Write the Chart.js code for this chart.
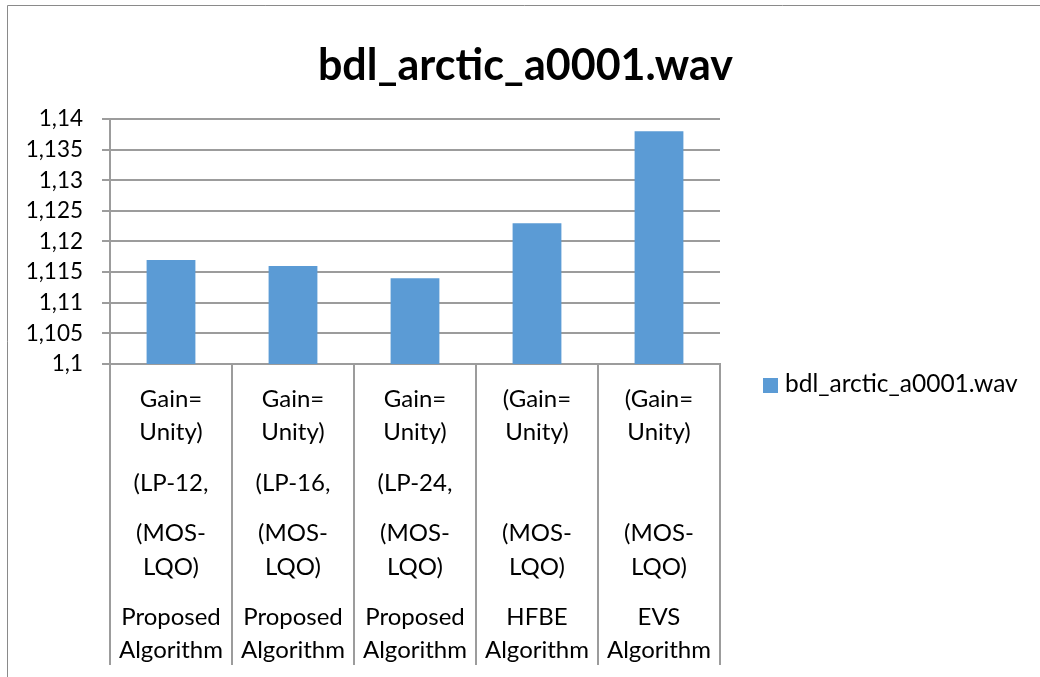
<!DOCTYPE html>
<html>
<head>
<meta charset="utf-8">
<script src="https://cdn.jsdelivr.net/npm/chart.js@4/dist/chart.umd.min.js"></script>
<style>
  html, body { margin: 0; padding: 0; background: #fff; }
  #wrap { width: 1040px; height: 677px; position: relative; }
</style>
</head>
<body>
<div id="wrap"><canvas id="c" width="1040" height="677"></canvas></div>
<script>
// Series and category data
const chartTitle = "bdl_arctic_a0001.wav";
const seriesName = "bdl_arctic_a0001.wav";
const subLabels = [
  ["Gain=", "Unity)", "(LP-12,", "(MOS-", "LQO)"],
  ["Gain=", "Unity)", "(LP-16,", "(MOS-", "LQO)"],
  ["Gain=", "Unity)", "(LP-24,", "(MOS-", "LQO)"],
  ["(Gain=", "Unity)", "", "(MOS-", "LQO)"],
  ["(Gain=", "Unity)", "", "(MOS-", "LQO)"]
];
const groupLabels = [
  ["Proposed", "Algorithm"],
  ["Proposed", "Algorithm"],
  ["Proposed", "Algorithm"],
  ["HFBE", "Algorithm"],
  ["EVS", "Algorithm"]
];
const values = [1.117, 1.116, 1.114, 1.123, 1.138];
const yMin = 1.1, yMax = 1.14, yStep = 0.005;

const FONT = "Lato, 'Open Sans', sans-serif";
const GRID = "#9c9c9c";
const FRAME = "#8a8a8a";
const BAR = "#5B9BD5";

const categories = subLabels.map((s, i) => groupLabels[i].join(" ") + " " + s.join(" "));

// Decimal comma formatting for the value axis
function fmt(v) {
  return String(parseFloat(v.toFixed(4))).replace(".", ",");
}

// Outer chart frame (top and left edges)
const framePlugin = {
  id: "frame",
  beforeDraw(chart) {
    const ctx = chart.ctx;
    ctx.save();
    ctx.fillStyle = "#fff";
    ctx.fillRect(0, 0, chart.width, chart.height);
    ctx.strokeStyle = FRAME;
    ctx.lineWidth = 1;
    ctx.beginPath();
    ctx.moveTo(7.5, chart.height + 2);
    ctx.lineTo(7.5, 5.5);
    ctx.lineTo(chart.width + 2, 5.5);
    ctx.stroke();
    ctx.restore();
  }
};

// Title, two-level category labels and legend
const decorPlugin = {
  id: "decor",
  afterDraw(chart) {
    const ctx = chart.ctx;
    const x = chart.scales.x;
    ctx.save();
    ctx.fillStyle = "#000";
    ctx.textAlign = "center";
    ctx.textBaseline = "alphabetic";
    ctx.font = "bold 43px " + FONT;
    ctx.fillText(chartTitle, 525.5, 80);

    ctx.font = "24px " + FONT;
    const subRows = [43, 76, 127, 177, 211];
    const groupRows = [261, 294];
    subLabels.forEach((lines, i) => {
      const cx = x.getPixelForValue(i);
      lines.forEach((t, j) => { if (t) ctx.fillText(t, cx, x.top + subRows[j]); });
      groupLabels[i].forEach((t, j) => ctx.fillText(t, cx, x.top + groupRows[j]));
    });

    const ds = chart.data.datasets[0];
    ctx.fillStyle = ds.backgroundColor;
    ctx.fillRect(763, 378, 15, 15);
    ctx.fillStyle = "#000";
    ctx.textAlign = "left";
    ctx.font = "24.5px " + FONT;
    ctx.fillText(ds.label, 785, 392);
    ctx.restore();
  }
};

new Chart(document.getElementById("c"), {
  type: "bar",
  data: {
    labels: categories,
    datasets: [{
      label: seriesName,
      data: values,
      backgroundColor: BAR,
      borderWidth: 0,
      categoryPercentage: 1,
      barPercentage: 0.4
    }]
  },
  options: {
    responsive: false,
    animation: false,
    devicePixelRatio: 1,
    layout: { padding: { left: 0, top: 119, right: 320, bottom: 0 } },
    plugins: {
      legend: { display: false },
      title: { display: false },
      tooltip: { enabled: false }
    },
    scales: {
      x: {
        ticks: { display: false },
        grid: {
          offset: true,
          drawOnChartArea: false,
          drawTicks: true,
          tickLength: 301,
          color: GRID,
          lineWidth: 2
        },
        border: { display: true, color: GRID, width: 2 },
        afterFit(scale) { scale.height = 313; }
      },
      y: {
        min: yMin,
        max: yMax,
        ticks: {
          stepSize: yStep,
          padding: 19,
          color: "#000",
          font: { family: FONT, size: 22.5 },
          callback: (v) => fmt(v)
        },
        grid: { color: GRID, lineWidth: 2, drawTicks: true, tickLength: 8 },
        border: { display: true, color: GRID, width: 2 },
        afterFit(scale) { scale.width = 110; }
      }
    }
  },
  plugins: [framePlugin, decorPlugin]
});
</script>
</body>
</html>
